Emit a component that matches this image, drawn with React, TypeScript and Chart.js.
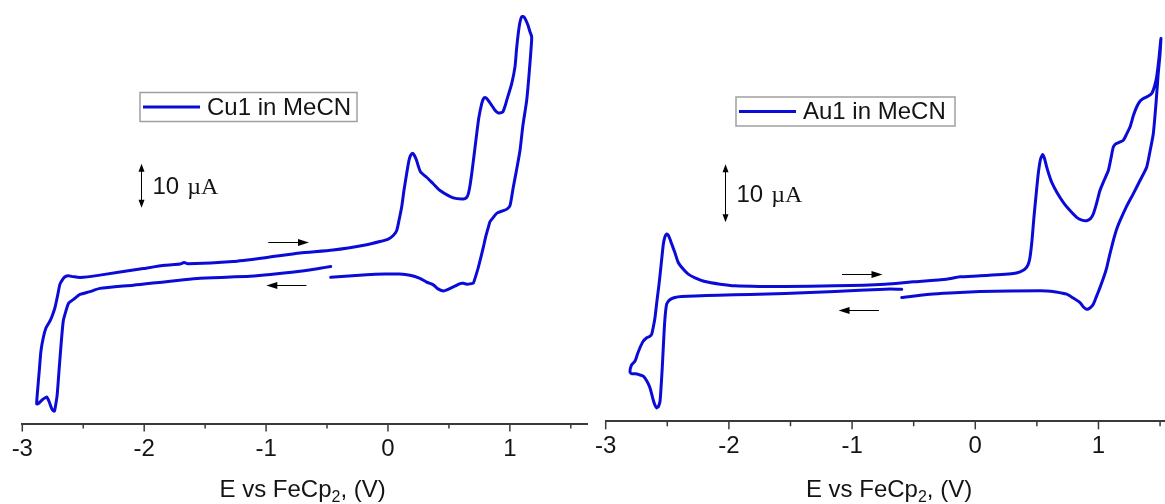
import React, { useEffect, useRef } from "react";
import { Chart, registerables } from "chart.js";

Chart.register(...registerables);

// Cyclic voltammograms, potential (V vs FeCp2) / current (µA, arbitrary offset)
const CU1_SCAN: [number, number][] = [
  [-0.47, 7.8], [-0.558, 7.39], [-0.722, 6.7], [-1.132, 5.57], [-1.542, 5.16], [-2.089, 3.57],
  [-2.363, 2.84], [-2.445, 2.11], [-2.527, 1.48], [-2.568, 0.61], [-2.609, -0.23], [-2.623, -0.68],
  [-2.642, -2.27], [-2.664, -4.55], [-2.683, -10.23], [-2.699, -15.91], [-2.705, -18.18], [-2.715, -21.59],
  [-2.728, -23.86], [-2.737, -25.0], [-2.756, -24.55], [-2.781, -22.73], [-2.8, -21.75], [-2.83, -22.27],
  [-2.871, -23.3], [-2.882, -23.34], [-2.875, -20.45], [-2.861, -15.91], [-2.847, -11.36], [-2.828, -8.34],
  [-2.806, -6.14], [-2.773, -4.55], [-2.752, -3.18], [-2.732, -1.52], [-2.711, 1.14], [-2.691, 3.8],
  [-2.666, 5.0], [-2.65, 5.45], [-2.623, 5.68], [-2.584, 5.5], [-2.527, 5.3], [-2.363, 5.84],
  [-2.007, 7.34], [-1.829, 8.07], [-1.706, 8.34], [-1.673, 8.68], [-1.641, 8.41], [-1.272, 8.93],
  [-0.995, 9.84], [-0.722, 10.84], [-0.451, 11.52], [-0.175, 12.73], [-0.066, 13.45], [0.002, 14.02],
  [0.041, 14.77], [0.071, 15.91], [0.09, 18.18], [0.112, 21.2], [0.131, 25.0], [0.153, 28.8],
  [0.172, 31.82], [0.185, 32.95], [0.203, 33.48], [0.217, 32.95], [0.235, 31.82], [0.25, 30.45],
  [0.268, 29.16], [0.317, 28.02], [0.369, 26.59], [0.427, 25.0], [0.536, 23.34], [0.618, 23.11],
  [0.644, 23.41], [0.659, 24.25], [0.673, 26.14], [0.687, 28.8], [0.706, 32.95], [0.728, 37.89],
  [0.746, 41.59], [0.769, 44.7], [0.783, 45.8], [0.796, 46.07], [0.812, 45.8], [0.851, 44.32],
  [0.878, 43.18], [0.905, 42.57], [0.941, 42.8], [0.96, 44.09], [0.974, 45.45], [1.015, 49.25],
  [1.042, 53.02], [1.054, 56.82], [1.069, 60.61], [1.083, 63.18], [1.097, 64.39], [1.112, 64.43],
  [1.124, 64.02], [1.148, 62.5], [1.165, 60.98], [1.179, 59.84], [1.173, 56.82], [1.157, 51.14],
  [1.138, 45.45], [1.107, 39.77], [1.083, 34.09], [1.054, 29.55], [1.028, 25.75], [1.001, 21.59],
  [0.976, 20.8], [0.946, 20.45], [0.894, 19.89], [0.864, 18.93], [0.837, 17.95], [0.823, 16.66],
  [0.802, 14.55], [0.782, 12.11], [0.761, 9.77], [0.741, 7.57], [0.728, 6.36], [0.71, 4.77],
  [0.7, 4.05], [0.673, 3.86], [0.646, 3.8], [0.618, 3.98], [0.591, 3.93], [0.554, 3.41],
  [0.523, 3.02], [0.484, 2.5], [0.454, 2.27], [0.41, 2.73], [0.372, 3.64], [0.317, 4.27],
  [0.262, 5.11], [0.18, 5.8], [0.098, 6.07], [-0.025, 6.07], [-0.175, 5.91], [-0.47, 5.34],
];

const AU1_SCAN: [number, number][] = [
  [-0.597, 2.02], [-0.733, 2.02], [-1.139, 1.64], [-1.545, 1.26], [-1.829, 1.12], [-2.086, 0.98],
  [-2.275, 0.86], [-2.383, 0.74], [-2.438, 0.6], [-2.464, 0.4], [-2.49, 0], [-2.505, -0.57],
  [-2.515, -2.07], [-2.524, -4.6], [-2.532, -7.76], [-2.541, -11.5], [-2.55, -14.66], [-2.559, -17.24],
  [-2.571, -18.1], [-2.586, -18.4], [-2.6, -17.93], [-2.616, -16.9], [-2.64, -14.95], [-2.665, -13.79],
  [-2.695, -12.93], [-2.73, -12.67], [-2.762, -12.53], [-2.791, -12.5], [-2.803, -12.19], [-2.791, -11.03],
  [-2.762, -10.34], [-2.742, -9.14], [-2.722, -8.05], [-2.697, -6.98], [-2.667, -6.33], [-2.644, -6.12],
  [-2.627, -5.74], [-2.612, -4.31], [-2.6, -2.88], [-2.584, 0], [-2.567, 2.88], [-2.551, 6.03],
  [-2.532, 9.78], [-2.519, 11.03], [-2.505, 11.5], [-2.49, 11.21], [-2.464, 9.78], [-2.438, 8.28],
  [-2.411, 6.6], [-2.373, 5.52], [-2.33, 4.6], [-2.275, 3.97], [-2.194, 3.33], [-2.072, 2.88],
  [-1.95, 2.59], [-1.748, 2.48], [-1.545, 2.47], [-1.139, 2.59], [-0.733, 2.88], [-0.503, 3.28],
  [-0.232, 3.74], [-0.124, 4.14], [0.038, 4.31], [0.308, 4.71], [0.363, 5.0], [0.403, 5.47],
  [0.428, 6.21], [0.444, 7.47], [0.46, 10.34], [0.476, 14.36], [0.493, 18.1], [0.511, 21.84],
  [0.529, 24.31], [0.547, 25.17], [0.562, 24.48], [0.58, 22.98], [0.598, 21.72], [0.62, 20.4],
  [0.663, 18.62], [0.714, 16.95], [0.769, 15.52], [0.823, 14.36], [0.866, 13.88], [0.904, 13.79],
  [0.935, 14.14], [0.958, 14.95], [0.984, 16.72], [1.012, 18.97], [1.045, 20.69], [1.08, 22.41],
  [1.101, 24.48], [1.12, 26.43], [1.138, 26.98], [1.153, 27.12], [1.175, 27.33], [1.201, 27.59],
  [1.227, 28.62], [1.256, 29.88], [1.284, 31.9], [1.31, 33.33], [1.337, 34.31], [1.364, 34.78],
  [1.402, 35.17], [1.432, 35.64], [1.455, 36.9], [1.472, 38.5], [1.491, 41.72], [1.507, 45.12],
  [1.499, 42.24], [1.485, 39.09], [1.467, 33.97], [1.445, 28.74], [1.418, 25.69], [1.391, 22.98],
  [1.337, 20.69], [1.282, 18.4], [1.227, 16.21], [1.175, 13.79], [1.146, 12.24], [1.12, 10.34],
  [1.093, 8.1], [1.067, 5.74], [1.041, 3.97], [1.012, 2.29], [0.984, 0.78], [0.958, -0.57],
  [0.931, -1.21], [0.904, -1.43], [0.874, -0.95], [0.85, -0.29], [0.793, 0.52], [0.742, 1.16],
  [0.655, 1.55], [0.58, 1.72], [0.282, 1.69], [0.038, 1.6], [-0.205, 1.38], [-0.368, 1.16],
  [-0.597, 0.57],
];

const SERIES_LABELS = ["Cu1 in MeCN", "Au1 in MeCN"];
const AXIS_TICKS = [-3, -2.5, -2, -1.5, -1, -0.5, 0, 0.5, 1, 1.5];
const AXIS_TITLE = ["E vs FeCp", "2", ", (V)"];
const SCALE_BAR_VALUE = 10;
const SCALE_BAR_NUMBER = "10";
const SCALE_BAR_UNIT = "µA";

// sweep-direction arrows: [E start, E end, I]
const CU1_SWEEP_ARROWS: [number, number, number][] = [
  [-0.982, -0.648, 13.3],
  [-0.669, -0.998, 3.6],
];
const AU1_SWEEP_ARROWS: [number, number, number][] = [
  [-1.082, -0.753, 4.66],
  [-0.782, -1.11, -1.55],
];

const BLUE = "#0b0bd8";
const AXIS_COLOR = "#3a3a3a";
const TEXT_COLOR = "#141414";
const SANS = '"Liberation Sans", Arial, Helvetica, sans-serif';
const SERIF = '"Liberation Serif", "Times New Roman", Times, serif';

type PanelSpec = {
  left: number;
  width: number;
  label: string;
  scan: [number, number][];
  xMax: number;
  yMin: number;
  yMax: number;
  padLeft: number;
  padBottom: number;
  legend: { x: number; y: number; w: number; h: number };
  bar: { e: number; i0: number };
  arrows: [number, number, number][];
};

function arrowHead(ctx: CanvasRenderingContext2D, x: number, y: number, dx: number, dy: number, len: number, half: number) {
  // (dx, dy) is the unit direction the head points to
  const bx = x - dx * len;
  const by = y - dy * len;
  ctx.beginPath();
  ctx.moveTo(x, y);
  ctx.lineTo(bx - dy * half, by + dx * half);
  ctx.lineTo(bx + dy * half, by - dx * half);
  ctx.closePath();
  ctx.fill();
}

function makeDecor(p: PanelSpec) {
  return {
    id: "cvDecor",
    afterDraw(chart: any) {
      const { ctx, chartArea } = chart;
      const xs = chart.scales.x;
      const ys = chart.scales.y;
      ctx.save();

      // axis tick marks: long on whole volts, short on half volts
      ctx.strokeStyle = AXIS_COLOR;
      ctx.lineWidth = 1.5;
      for (const v of AXIS_TICKS) {
        const px = xs.getPixelForValue(v);
        ctx.beginPath();
        ctx.moveTo(px, chartArea.bottom);
        ctx.lineTo(px, chartArea.bottom + (Number.isInteger(v) ? 8 : 5));
        ctx.stroke();
      }

      // legend box
      const ds = chart.data.datasets[0];
      const lg = p.legend;
      ctx.fillStyle = "#ffffff";
      ctx.fillRect(lg.x, lg.y, lg.w, lg.h);
      ctx.strokeStyle = "#a0a0a0";
      ctx.lineWidth = 1.5;
      ctx.strokeRect(lg.x, lg.y, lg.w, lg.h);
      const ly = lg.y + lg.h / 2;
      ctx.strokeStyle = ds.borderColor;
      ctx.lineWidth = 3;
      ctx.beginPath();
      ctx.moveTo(lg.x + 3, ly);
      ctx.lineTo(lg.x + 60, ly);
      ctx.stroke();
      ctx.fillStyle = TEXT_COLOR;
      ctx.font = `24px ${SANS}`;
      ctx.textAlign = "left";
      ctx.textBaseline = "middle";
      ctx.fillText(ds.label, lg.x + 67, ly + 1);

      // current scale bar
      ctx.strokeStyle = "#000";
      ctx.fillStyle = "#000";
      ctx.lineWidth = 1;
      const bx = Math.round(xs.getPixelForValue(p.bar.e)) + 0.5;
      const yb = ys.getPixelForValue(p.bar.i0);
      const yt = ys.getPixelForValue(p.bar.i0 + SCALE_BAR_VALUE);
      ctx.beginPath();
      ctx.moveTo(bx, yt + 4);
      ctx.lineTo(bx, yb - 4);
      ctx.stroke();
      arrowHead(ctx, bx, yt, 0, -1, 8, 3);
      arrowHead(ctx, bx, yb, 0, 1, 8, 3);
      const mid = (yt + yb) / 2 + 2;
      ctx.fillStyle = TEXT_COLOR;
      ctx.font = `24px ${SANS}`;
      ctx.fillText(SCALE_BAR_NUMBER, bx + 11, mid);
      const wNum = ctx.measureText(SCALE_BAR_NUMBER).width;
      ctx.font = `24px ${SERIF}`;
      ctx.fillText(SCALE_BAR_UNIT, bx + 11 + wNum + 8, mid);

      // sweep-direction arrows
      ctx.fillStyle = "#000";
      for (const [e0, e1, i] of p.arrows) {
        const x0 = xs.getPixelForValue(e0);
        const x1 = xs.getPixelForValue(e1);
        const yy = Math.round(ys.getPixelForValue(i)) + 0.5;
        const dir = Math.sign(x1 - x0);
        ctx.beginPath();
        ctx.moveTo(x0, yy);
        ctx.lineTo(x1 - dir * 6, yy);
        ctx.stroke();
        arrowHead(ctx, x1, yy, dir, 0, 11, 3.5);
      }

      // axis title with subscript
      const [t1, t2, t3] = AXIS_TITLE;
      ctx.fillStyle = TEXT_COLOR;
      ctx.textBaseline = "alphabetic";
      ctx.font = `24px ${SANS}`;
      const w1 = ctx.measureText(t1).width;
      const w3 = ctx.measureText(t3).width;
      ctx.font = `16px ${SANS}`;
      const w2 = ctx.measureText(t2).width;
      const cx = xs.getPixelForValue(-0.7);
      const base = chart.height - 7;
      let tx = cx - (w1 + w2 + w3) / 2;
      ctx.font = `24px ${SANS}`;
      ctx.fillText(t1, tx, base);
      tx += w1;
      ctx.font = `16px ${SANS}`;
      ctx.fillText(t2, tx, base + 5);
      tx += w2;
      ctx.font = `24px ${SANS}`;
      ctx.fillText(t3, tx, base);

      ctx.restore();
    },
  };
}

function CvPanel({ spec }: { spec: PanelSpec }) {
  const ref = useRef<HTMLCanvasElement | null>(null);

  useEffect(() => {
    if (!ref.current) return;
    const chart = new Chart(ref.current, {
      type: "scatter",
      data: {
        datasets: [
          {
            label: spec.label,
            data: spec.scan.map(([e, i]) => ({ x: e, y: i })),
            showLine: true,
            borderColor: BLUE,
            backgroundColor: BLUE,
            borderWidth: 3,
            pointRadius: 0,
            tension: 0.2,
            borderJoinStyle: "round",
            borderCapStyle: "round",
            fill: false,
          } as any,
        ],
      },
      options: {
        animation: false,
        responsive: false,
        maintainAspectRatio: false,
        layout: {
          padding: { left: spec.padLeft, right: 0, top: 0, bottom: spec.padBottom },
        },
        plugins: {
          legend: { display: false },
          tooltip: { enabled: false },
        },
        scales: {
          x: {
            type: "linear",
            min: -3,
            max: spec.xMax,
            afterBuildTicks: (axis: any) => {
              axis.ticks = AXIS_TICKS.map((v) => ({ value: v }));
            },
            ticks: {
              autoSkip: false,
              maxRotation: 0,
              padding: 3,
              color: TEXT_COLOR,
              font: { family: SANS, size: 24 },
              callback: (v: any) => (Number.isInteger(Number(v)) ? String(v) : ""),
            },
            grid: { display: false, drawTicks: true, tickLength: 8 },
            border: { display: true, color: AXIS_COLOR, width: 2 },
          },
          y: {
            type: "linear",
            display: false,
            min: spec.yMin,
            max: spec.yMax,
          },
        },
      },
      plugins: [makeDecor(spec)],
    });
    return () => chart.destroy();
  }, [spec]);

  return (
    <canvas
      ref={ref}
      width={spec.width}
      height={504}
      style={{ position: "absolute", left: spec.left, top: 0, width: spec.width, height: 504, display: "block" }}
    />
  );
}

const CU1_PANEL: PanelSpec = {
  left: 0,
  width: 588,
  label: SERIES_LABELS[0],
  scan: CU1_SCAN,
  xMax: 1.641,
  yMin: -27.8,
  yMax: 68.18,
  padLeft: 22.3,
  padBottom: 37.6,
  legend: { x: 140, y: 92.5, w: 217, h: 29 },
  bar: { e: -2.03, i0: 21.1 },
  arrows: CU1_SWEEP_ARROWS,
};

const AU1_PANEL: PanelSpec = {
  left: 588,
  width: 577,
  label: SERIES_LABELS[1],
  scan: AU1_SCAN,
  xMax: 1.54,
  yMin: -20.69,
  yMax: 51.72,
  padLeft: 17.7,
  padBottom: 39.9,
  legend: { x: 148, y: 97, w: 219, h: 29 },
  bar: { e: -2.032, i0: 13.5 },
  arrows: AU1_SWEEP_ARROWS,
};

export default function App() {
  return (
    <div style={{ position: "fixed", left: 0, top: 0, width: 1165, height: 504, background: "#ffffff", overflow: "hidden" }}>
      <CvPanel spec={CU1_PANEL} />
      <CvPanel spec={AU1_PANEL} />
    </div>
  );
}
